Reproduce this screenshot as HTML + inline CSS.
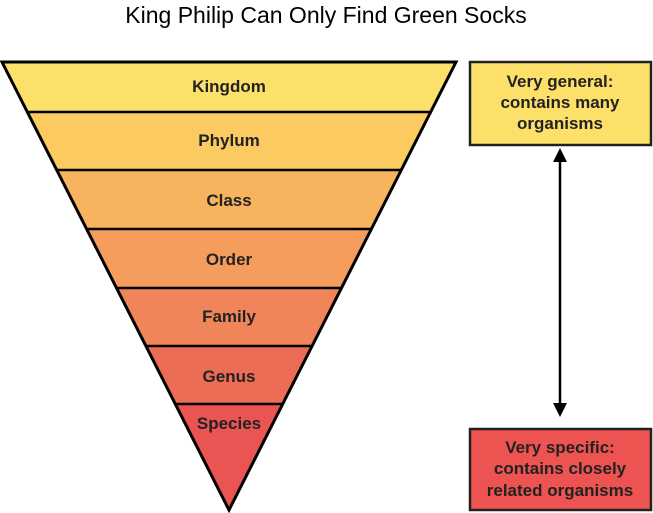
<!DOCTYPE html>
<html><head><style>
html,body{margin:0;padding:0;background:#fff;}
svg{display:block;}
text{font-family:"Liberation Sans",sans-serif;}
</style></head><body>
<svg width="653" height="513" viewBox="0 0 653 513" xmlns="http://www.w3.org/2000/svg">
<defs>
<clipPath id="tri"><polygon points="2,62 456,62 229,510"/></clipPath>
</defs>
<text x="326" y="23" font-size="23" text-anchor="middle" fill="#000">King Philip Can Only Find Green Socks</text>
<g clip-path="url(#tri)">
<rect x="0" y="60" width="460" height="52" fill="#fde06a"/>
<rect x="0" y="112" width="460" height="58" fill="#fbca60"/>
<rect x="0" y="170" width="460" height="59" fill="#f8b35f"/>
<rect x="0" y="229" width="460" height="59" fill="#f59d5c"/>
<rect x="0" y="288" width="460" height="58" fill="#f1855a"/>
<rect x="0" y="346" width="460" height="58" fill="#ed6c56"/>
<rect x="0" y="404" width="460" height="110" fill="#ea5452"/>
</g>
<g stroke="#000" stroke-width="2.5">
<line x1="27" y1="112" x2="431" y2="112"/>
<line x1="57" y1="170" x2="401" y2="170"/>
<line x1="87" y1="229" x2="371" y2="229"/>
<line x1="117" y1="288" x2="341" y2="288"/>
<line x1="146" y1="346" x2="312" y2="346"/>
<line x1="176" y1="404" x2="282" y2="404"/>
</g>
<polygon points="2,62 456,62 229,510" fill="none" stroke="#000" stroke-width="3" stroke-linejoin="miter"/>
<g font-size="17" font-weight="bold" text-anchor="middle" fill="#222">
<text x="229" y="92">Kingdom</text>
<text x="229" y="146">Phylum</text>
<text x="229" y="206">Class</text>
<text x="229" y="265">Order</text>
<text x="229" y="322">Family</text>
<text x="229" y="382">Genus</text>
<text x="229" y="429">Species</text>
</g>
<rect x="470" y="62" width="181" height="83" fill="#fde06a" stroke="#222" stroke-width="2.5"/>
<rect x="470" y="429" width="181" height="81" fill="#ed5351" stroke="#222" stroke-width="2.5"/>
<g font-size="17" font-weight="bold" text-anchor="middle" fill="#222">
<text x="560" y="87">Very general:</text>
<text x="560" y="108">contains many</text>
<text x="560" y="129">organisms</text>
<text x="560" y="453">Very specific:</text>
<text x="560" y="474">contains closely</text>
<text x="560" y="496">related organisms</text>
</g>
<line x1="560" y1="160" x2="560" y2="405" stroke="#000" stroke-width="2.5"/>
<polygon points="560,148 553,162 567,162" fill="#000"/>
<polygon points="560,417 553,403 567,403" fill="#000"/>
</svg>
</body></html>
